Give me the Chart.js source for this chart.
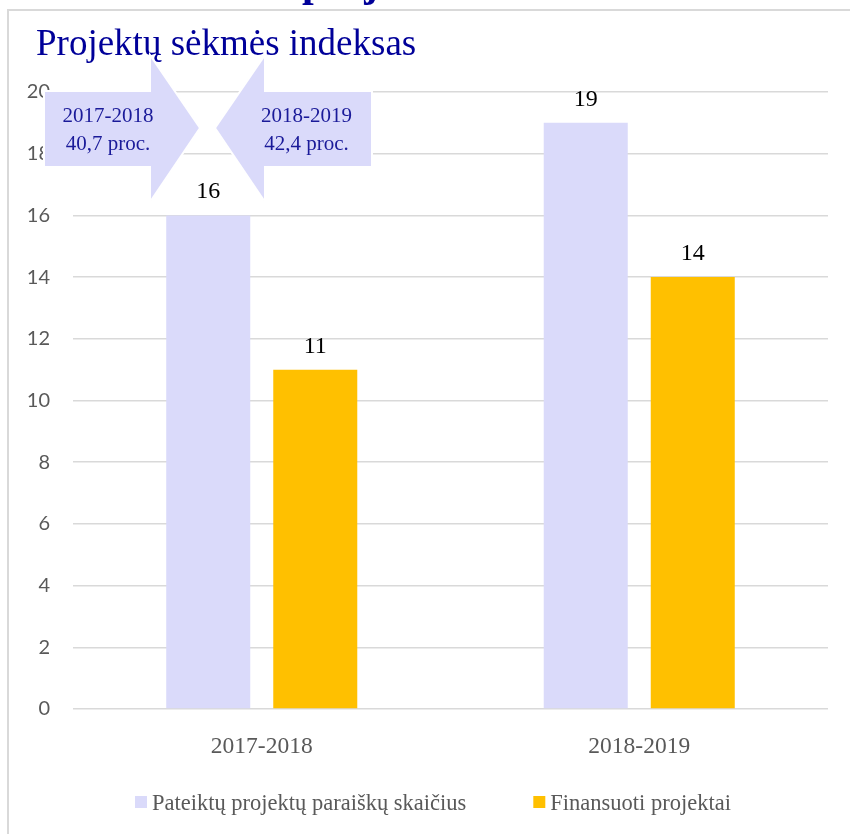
<!DOCTYPE html>
<html><head><meta charset="utf-8">
<script src="https://cdn.jsdelivr.net/npm/chart.js@4/dist/chart.umd.min.js"></script>
<style>html,body{margin:0;padding:0;background:#fff}#wrap{width:850px;height:834px;position:relative}</style>
</head><body><div id="wrap"><canvas id="c"></canvas></div>
<script>
// ---- data ----
const categories = ['2017-2018', '2018-2019'];
const submitted = [16, 19];
const funded = [11, 14];
const seriesNames = ['Pateiktų projektų paraiškų skaičius', 'Finansuoti projektai'];
const seriesColors = ['#DADAFA', '#FFC000'];
const yMin = 0, yMax = 20, yStep = 2;
const chartTitle = 'Projektų sėkmės indeksas';
const topCutText = 'projekt';
const arrowNotes = [['2017-2018', '40,7 proc.'], ['2018-2019', '42,4 proc.']];

const SERIF = '"Liberation Serif", "Times New Roman", serif';

const framePlugin = {
  id: 'frame',
  beforeDraw(chart) {
    const ctx = chart.ctx;
    ctx.save();
    ctx.fillStyle = '#fff';
    ctx.fillRect(0, 0, chart.width, chart.height);
    ctx.strokeStyle = '#d9d9d9';
    ctx.lineWidth = 2;
    ctx.strokeRect(8, 10, chart.width + 10, chart.height + 10);
    ctx.fillStyle = '#000099';
    ctx.font = 'bold 42px ' + SERIF;
    ctx.textBaseline = 'alphabetic';
    ctx.fillText(topCutText, 302, -4);
    ctx.font = '37px ' + SERIF;
    ctx.fillText(chartTitle, 36, 55);
    ctx.restore();
  }
};

const valueLabelPlugin = {
  id: 'valueLabels',
  afterDatasetsDraw(chart) {
    const ctx = chart.ctx;
    ctx.save();
    ctx.font = '24px ' + SERIF;
    ctx.fillStyle = '#000';
    ctx.textAlign = 'center';
    ctx.textBaseline = 'alphabetic';
    chart.data.datasets.forEach((ds, i) => {
      chart.getDatasetMeta(i).data.forEach((bar, j) => {
        ctx.fillText(String(ds.data[j]), bar.x, bar.y - 17);
      });
    });
    ctx.restore();
  }
};

const overlayPlugin = {
  id: 'overlay',
  afterDraw(chart) {
    const ctx = chart.ctx;
    ctx.save();
    // arrows
    const arrows = [
      [[44,91],[150,91],[150,55],[200,128],[150,202],[150,167],[44,167]],
      [[372,91],[265,91],[265,55],[215,128],[265,202],[265,167],[372,167]]
    ];
    arrows.forEach(pts => {
      ctx.beginPath();
      pts.forEach((p, k) => k ? ctx.lineTo(p[0], p[1]) : ctx.moveTo(p[0], p[1]));
      ctx.closePath();
      ctx.fillStyle = seriesColors[0];
      ctx.fill();
      ctx.strokeStyle = '#fff';
      ctx.lineWidth = 2;
      ctx.stroke();
    });
    ctx.font = '21px ' + SERIF;
    ctx.fillStyle = '#1a1a99';
    ctx.textAlign = 'center';
    const cx = [108, 306.5];
    arrowNotes.forEach((n, k) => {
      ctx.fillText(n[0], cx[k], 122);
      ctx.fillText(n[1], cx[k], 150);
    });
    // legend
    ctx.font = '22.5px ' + SERIF;
    ctx.textAlign = 'left';
    ctx.textBaseline = 'alphabetic';
    let x = 135;
    seriesNames.forEach((name, k) => {
      ctx.fillStyle = seriesColors[k];
      ctx.fillRect(x, 796, 12, 12);
      ctx.fillStyle = '#595959';
      ctx.fillText(name, x + 17, 810);
      x += 17 + ctx.measureText(name).width + 67;
    });
    ctx.restore();
  }
};

new Chart(document.getElementById('c'), {
  type: 'bar',
  data: {
    labels: categories,
    datasets: [
      { label: seriesNames[0], data: submitted, backgroundColor: seriesColors[0] },
      { label: seriesNames[1], data: funded, backgroundColor: seriesColors[1] }
    ]
  },
  options: {
    responsive: true,
    maintainAspectRatio: false,
    animation: false,
    devicePixelRatio: 1,
    categoryPercentage: 0.567,
    barPercentage: 0.785,
    layout: { padding: { left: 0, right: 22, top: 92, bottom: 65 } },
    plugins: { legend: { display: false }, title: { display: false }, tooltip: { enabled: false } },
    scales: {
      x: {
        grid: { display: false },
        border: { display: false },
        ticks: { color: '#595959', font: { family: SERIF, size: 23.5 }, padding: 16 },
        afterFit(s) { s.height = 60; }
      },
      y: {
        min: yMin, max: yMax,
        border: { display: false },
        grid: { color: '#d9d9d9', lineWidth: 1.5, drawTicks: false },
        ticks: { stepSize: yStep, color: '#595959', font: { family: 'Lato', size: 20 }, padding: 23 },
        afterFit(s) { s.width = 73; }
      }
    }
  },
  plugins: [framePlugin, valueLabelPlugin, overlayPlugin]
});
</script>
</body></html>
